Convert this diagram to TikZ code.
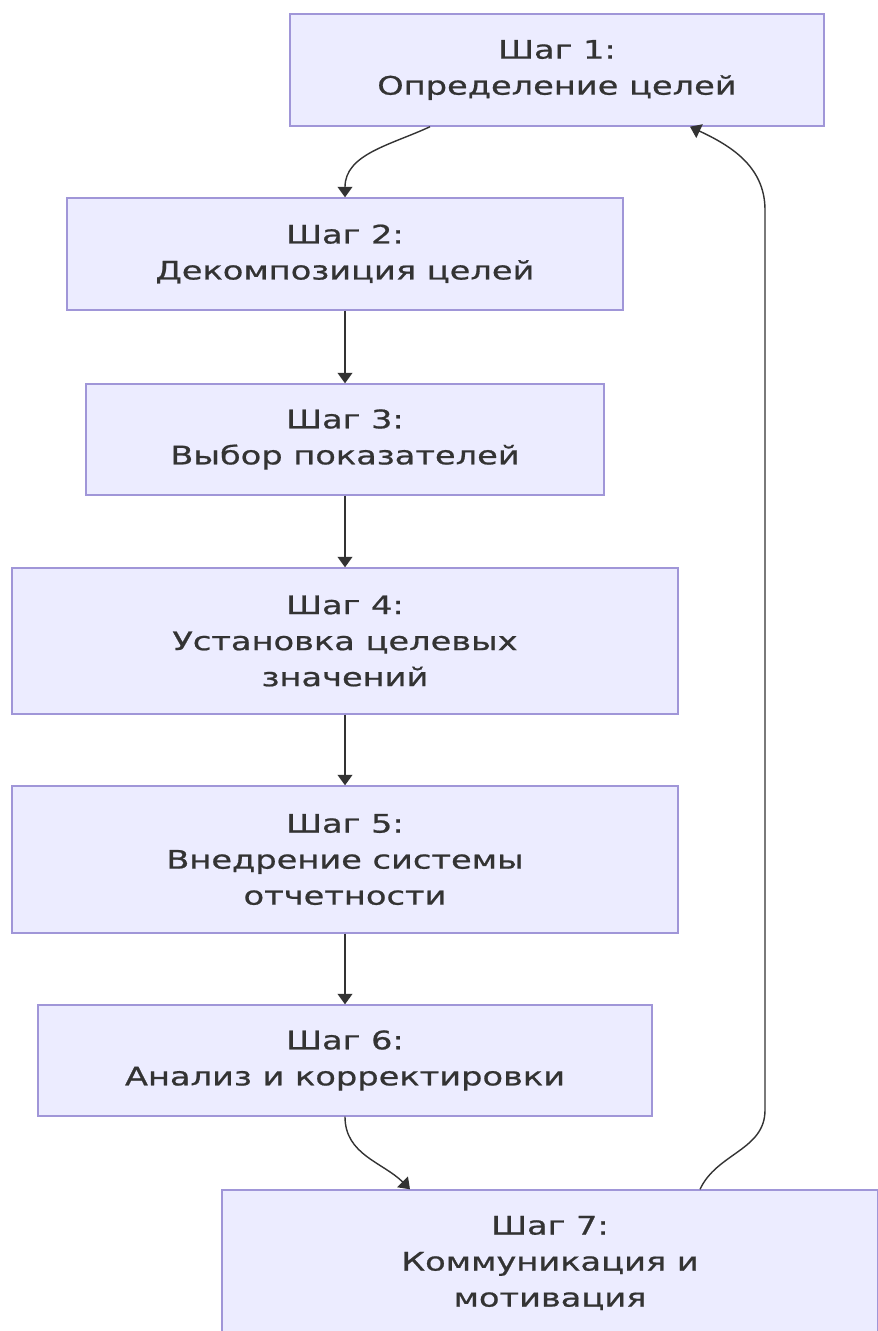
\documentclass[tikz,border=0pt]{standalone}
\usepackage{fontspec}
\setmainfont[FakeStretch=1.32,FakeBold=0.8]{DejaVu Sans}
\usetikzlibrary{arrows.meta}
\definecolor{boxfill}{HTML}{ECECFF}
\definecolor{boxline}{HTML}{A096D8}
\definecolor{ink}{HTML}{333333}

\begin{document}
\begin{tikzpicture}[
  stepbox/.style={draw=boxline, fill=boxfill, line width=0.8pt, inner sep=0pt,
    align=center, text=ink, font=\fontsize{14.5}{20.5}\selectfont},
  link/.style={draw=ink, line width=0.8pt, -{Triangle[length=6pt,width=8.5pt]}}]
\useasboundingbox (0,0) rectangle (17.54,-26.62);

\node [stepbox, minimum width=10.68cm, minimum height=2.24cm] (s1) at (11.14,-1.40) {Шаг 1:\\Определение целей};
\node [stepbox, minimum width=11.12cm, minimum height=2.24cm] (s2) at (6.90,-5.08) {Шаг 2:\\Декомпозиция целей};
\node [stepbox, minimum width=10.36cm, minimum height=2.22cm] (s3) at (6.90,-8.79) {Шаг 3:\\Выбор показателей};
\node [stepbox, minimum width=13.32cm, minimum height=2.92cm] (s4) at (6.90,-12.82) {Шаг 4:\\Установка целевых\\значений};
\node [stepbox, minimum width=13.32cm, minimum height=2.94cm] (s5) at (6.90,-17.19) {Шаг 5:\\Внедрение системы\\отчетности};
\node [stepbox, minimum width=12.28cm, minimum height=2.22cm] (s6) at (6.90,-21.21) {Шаг 6:\\Анализ и корректировки};
\node [stepbox, minimum width=13.12cm, minimum height=2.92cm] (s7) at (11.00,-25.26) {Шаг 7:\\Коммуникация и\\мотивация};

\draw [link] ([xshift=-2.54cm]s1.south) to [out=-155,in=90] (s2.north);
\draw [link] (s2) -- (s3);
\draw [link] (s3) -- (s4);
\draw [link] (s4) -- (s5);
\draw [link] (s5) -- (s6);
\draw [link] (s6.south) to [out=-90,in=135] ([xshift=-2.8cm]s7.north);

% back to step 1
\coordinate (rb) at (15.30,-22.2);
\coordinate (rt) at (15.30,-4.2);
\draw [link] ([xshift=3cm]s7.north) to [out=65,in=-90] (rb) -- (rt) to [out=90,in=-25] ([xshift=2.66cm]s1.south);
\end{tikzpicture}
\end{document}
